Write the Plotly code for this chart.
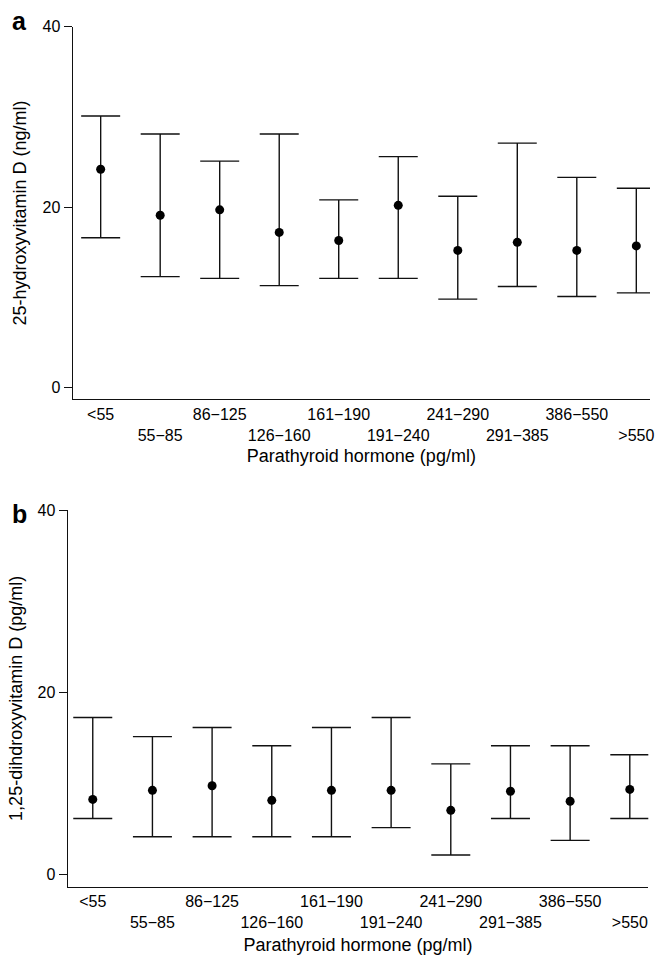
import plotly.graph_objects as go

categories = ["<55", "55\u221285", "86\u2212125", "126\u2212160", "161\u2212190",
              "191\u2212240", "241\u2212290", "291\u2212385", "386\u2212550", ">550"]

# Panel a: 25-hydroxyvitamin D (ng/ml)
vit25_mean = [24.2, 19.1, 19.7, 17.2, 16.3, 20.2, 15.2, 16.1, 15.2, 15.7]
vit25_upper = [30.1, 28.1, 25.1, 28.1, 20.8, 25.6, 21.2, 27.1, 23.3, 22.1]
vit25_lower = [16.6, 12.3, 12.1, 11.3, 12.1, 12.1, 9.8, 11.2, 10.1, 10.5]

# Panel b: 1,25-dihydroxyvitamin D (pg/ml)
vit125_mean = [8.2, 9.2, 9.7, 8.1, 9.2, 9.2, 7.0, 9.1, 8.0, 9.3]
vit125_upper = [17.2, 15.1, 16.1, 14.1, 16.1, 17.2, 12.1, 14.1, 14.1, 13.1]
vit125_lower = [6.1, 4.1, 4.1, 4.1, 4.1, 5.1, 2.1, 6.1, 3.7, 6.1]

W, H = 657, 955
FONT = "Liberation Sans, Arial, Helvetica, sans-serif"
INK = "#111111"

def px_x(p):
    return p / W

def px_y(p):
    return 1 - p / H

fig = go.Figure()

def add_panel(mean, upper, lower, xa, ya):
    fig.add_trace(go.Scatter(
        x=categories, y=mean, mode="markers",
        marker=dict(color="black", size=9, symbol="circle"),
        error_y=dict(type="data", symmetric=False,
                     array=[u - m for u, m in zip(upper, mean)],
                     arrayminus=[m - l for m, l in zip(mean, lower)],
                     color=INK, thickness=1.4, width=19.5),
        xaxis=xa, yaxis=ya, showlegend=False, hoverinfo="x+y",
    ))

add_panel(vit25_mean, vit25_upper, vit25_lower, "x", "y")
add_panel(vit125_mean, vit125_upper, vit125_lower, "x2", "y2")

ticktext = [c if i % 2 == 0 else "<br>" + c for i, c in enumerate(categories)]

xcommon = dict(type="category", tickmode="array", tickvals=categories, ticktext=ticktext,
               tickangle=0,
               showline=True, linecolor=INK, linewidth=1.4, ticks="", showgrid=False,
               zeroline=False, tickfont=dict(family=FONT, size=16, color="black"),
               automargin=False, fixedrange=True)
ycommon = dict(tickvals=[0, 20, 40], ticks="outside", ticklen=8, tickwidth=1.4,
               tickcolor=INK, showline=True, linecolor=INK, linewidth=1.4, showgrid=False,
               zeroline=False, tickfont=dict(family=FONT, size=16, color="black"),
               automargin=False, fixedrange=True)

title_font = dict(family=FONT, size=18, color="black")

fig.update_layout(
    width=W, height=H, margin=dict(l=0, r=0, t=0, b=0),
    paper_bgcolor="white", plot_bgcolor="white",
    font=dict(family=FONT, color="black"),
    xaxis=dict(xcommon, domain=[px_x(72.7), px_x(650)], range=[-0.47, 9.23], anchor="y",
               title=dict(text="Parathyroid hormone (pg/ml)", font=title_font, standoff=6)),
    yaxis=dict(ycommon, domain=[px_y(399.3), px_y(26.7)], range=[-1.3, 40], anchor="x",
               title=dict(text="25-hydroxyvitamin D (ng/ml)", font=title_font, standoff=11)),
    xaxis2=dict(xcommon, domain=[px_x(67.7), px_x(648.3)], range=[-0.42, 9.31], anchor="y2",
                title=dict(text="Parathyroid hormone (pg/ml)", font=title_font, standoff=8)),
    yaxis2=dict(ycommon, domain=[px_y(886.7), px_y(510)], range=[-1.39, 40], anchor="x2",
                title=dict(text="1,25-dihdroxyvitamin D (pg/ml)", font=title_font, standoff=10)),
    annotations=[
        dict(text="<b>a</b>", x=px_x(19), y=px_y(21), xref="paper", yref="paper",
             xanchor="center", yanchor="middle", showarrow=False,
             font=dict(family=FONT, size=25, color="black")),
        dict(text="<b>b</b>", x=px_x(19), y=px_y(514), xref="paper", yref="paper",
             xanchor="center", yanchor="middle", showarrow=False,
             font=dict(family=FONT, size=25, color="black")),
    ],
)

fig.write_html("out.html")
